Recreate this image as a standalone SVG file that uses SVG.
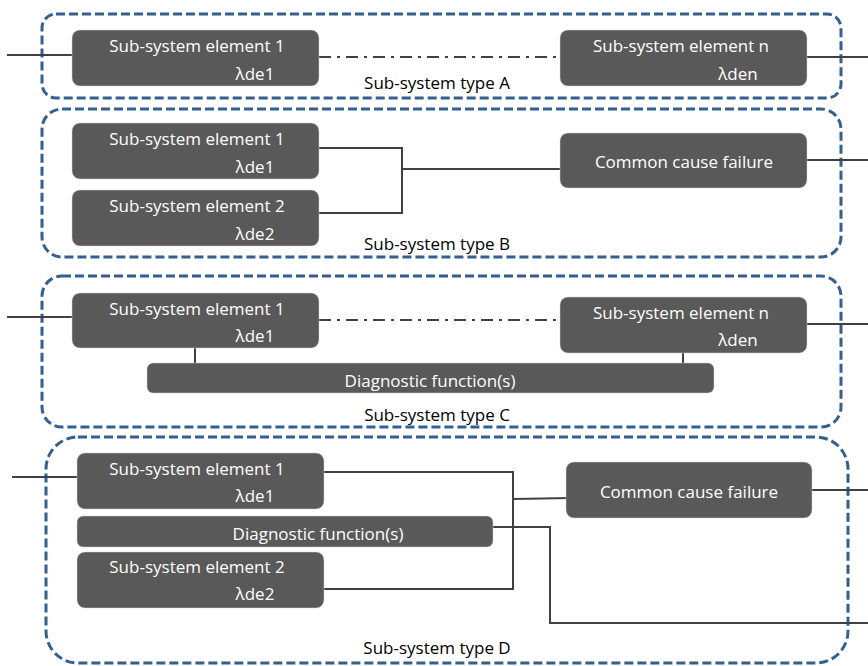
<svg xmlns="http://www.w3.org/2000/svg" width="868" height="666" viewBox="0 0 868 666">
<style>
.grp{fill:none;stroke:#335f91;stroke-width:3;stroke-dasharray:9 4}
.box{fill:#595959;stroke:#d0d0d0;stroke-width:0.5}
.wt{fill:#ffffff;font-family:"Open Sans","Liberation Sans",sans-serif;font-size:17px}
.bt{fill:#000000;font-family:"Open Sans","Liberation Sans",sans-serif;font-size:17px}
.ln{fill:none;stroke:#404040;stroke-width:2}
.dd{fill:none;stroke:#404040;stroke-width:2;stroke-dasharray:12 6 3 6}
</style>
<rect width="868" height="666" fill="#ffffff"/>
<g id="containers">
<rect id="typeA" class="grp" x="42" y="14" width="799" height="84" rx="14"/>
<rect id="typeB" class="grp" x="42" y="109" width="799" height="148" rx="20"/>
<rect id="typeC" class="grp" x="42" y="276" width="799" height="151" rx="20"/>
<rect id="typeD" class="grp" x="46" y="437" width="802" height="226" rx="32"/>
</g>
<g id="connectors">
<line class="ln" x1="7" y1="55" x2="72" y2="55"/>
<line class="dd" x1="319" y1="57" x2="560" y2="57"/>
<line class="ln" x1="807" y1="57" x2="868" y2="57"/>
<polyline class="ln" points="319,148 402,148 402,213 319,213"/>
<line class="ln" x1="402" y1="169" x2="563" y2="169"/>
<line class="ln" x1="807" y1="160" x2="868" y2="160"/>
<line class="ln" x1="7" y1="317" x2="72" y2="317"/>
<line class="dd" x1="319" y1="320" x2="560" y2="320"/>
<line class="ln" x1="807" y1="324" x2="868" y2="324"/>
<line class="ln" x1="195" y1="348" x2="195" y2="363"/>
<line class="ln" x1="683" y1="353" x2="683" y2="363"/>
<line class="ln" x1="12" y1="477" x2="77" y2="477"/>
<polyline class="ln" points="324,472 513,472 513,589 324,589"/>
<line class="ln" x1="513" y1="499" x2="571" y2="498"/>
<line class="ln" x1="812" y1="490" x2="868" y2="490"/>
<polyline class="ln" points="493,527 550,527 550,623 868,623"/>
</g>
<g id="a1"><rect class="box" x="72" y="30" width="247" height="56" rx="8"/><text class="wt" x="197" y="52" text-anchor="middle">Sub-system element 1</text><text class="wt" x="255" y="80" text-anchor="middle">λde1</text></g>
<g id="an"><rect class="box" x="560" y="30" width="247" height="56" rx="8"/><text class="wt" x="681" y="52" text-anchor="middle">Sub-system element n</text><text class="wt" x="738" y="80" text-anchor="middle">λden</text></g>
<text class="bt" x="437" y="89" text-anchor="middle">Sub-system type A</text>
<g id="b1"><rect class="box" x="72" y="123" width="247" height="56" rx="8"/><text class="wt" x="197" y="145" text-anchor="middle">Sub-system element 1</text><text class="wt" x="255" y="173" text-anchor="middle">λde1</text></g>
<g id="b2"><rect class="box" x="72" y="190" width="247" height="56" rx="8"/><text class="wt" x="197" y="212" text-anchor="middle">Sub-system element 2</text><text class="wt" x="255" y="240" text-anchor="middle">λde2</text></g>
<g id="bccf"><rect class="box" x="560" y="133" width="247" height="55" rx="8"/><text class="wt" x="684" y="168" text-anchor="middle">Common cause failure</text></g>
<text class="bt" x="437" y="250" text-anchor="middle">Sub-system type B</text>
<g id="c1"><rect class="box" x="72" y="293" width="247" height="55" rx="8"/><text class="wt" x="197" y="315" text-anchor="middle">Sub-system element 1</text><text class="wt" x="255" y="342" text-anchor="middle">λde1</text></g>
<g id="cn"><rect class="box" x="560" y="297" width="247" height="56" rx="8"/><text class="wt" x="681" y="319" text-anchor="middle">Sub-system element n</text><text class="wt" x="738" y="346" text-anchor="middle">λden</text></g>
<g id="cdiag"><rect class="box" x="147" y="363" width="567" height="30" rx="6"/><text class="wt" x="430" y="387" text-anchor="middle">Diagnostic function(s)</text></g>
<text class="bt" x="437" y="421" text-anchor="middle">Sub-system type C</text>
<g id="d1"><rect class="box" x="77" y="453" width="247" height="56" rx="8"/><text class="wt" x="197" y="475" text-anchor="middle">Sub-system element 1</text><text class="wt" x="255" y="502" text-anchor="middle">λde1</text></g>
<g id="ddiag"><rect class="box" x="77" y="516" width="416" height="31" rx="6"/><text class="wt" x="318" y="540" text-anchor="middle">Diagnostic function(s)</text></g>
<g id="d2"><rect class="box" x="77" y="552" width="247" height="56" rx="8"/><text class="wt" x="197" y="573" text-anchor="middle">Sub-system element 2</text><text class="wt" x="255" y="600" text-anchor="middle">λde2</text></g>
<g id="dccf"><rect class="box" x="566" y="462" width="246" height="56" rx="8"/><text class="wt" x="689" y="498" text-anchor="middle">Common cause failure</text></g>
<text class="bt" x="437" y="654" text-anchor="middle">Sub-system type D</text>
</svg>
